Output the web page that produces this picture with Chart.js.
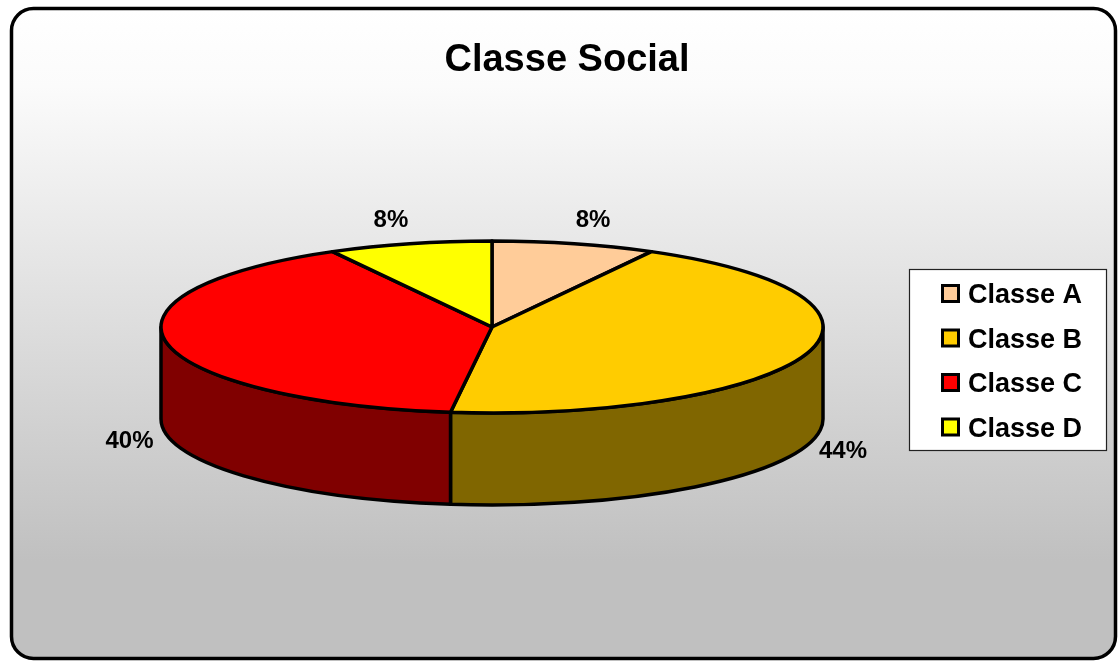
<!DOCTYPE html>
<html>
<head>
<meta charset="utf-8">
<title>Classe Social</title>
<script src="https://cdn.jsdelivr.net/npm/chart.js@4/dist/chart.umd.min.js"></script>
<style>
  html,body{margin:0;padding:0;background:#fff;}
  canvas{display:block;}
</style>
</head>
<body>
<canvas id="pie" width="1119" height="662"></canvas>
<script>
// data
const categories = ['Classe A','Classe B','Classe C','Classe D'];
const shares = [8, 44, 40, 8];
const topColors = ['#FFCC99','#FFCC00','#FF0000','#FFFF00'];
const sideColors = ['#806633','#806600','#800000','#808000'];
const chartTitle = 'Classe Social';

const FONT = 'Arial, "Liberation Sans", sans-serif';
const DEPTH = 92;   // height of the pie wall, px

const pct = (v) => Math.round(v / shares.reduce((a,b)=>a+b,0) * 100) + '%';

function drawFrame(ctx){
  const x=11.5, y=8.5, w=1104, h=650, r=22;
  const g = ctx.createLinearGradient(0, y, 0, y+h);
  g.addColorStop(0, '#ffffff');
  g.addColorStop(0.12, '#fbfbfb');
  g.addColorStop(0.85, '#c0c0c0');
  g.addColorStop(1, '#c0c0c0');
  ctx.save();
  ctx.beginPath();
  ctx.roundRect(x, y, w, h, r);
  ctx.fillStyle = g; ctx.fill();
  ctx.lineWidth = 3.5; ctx.strokeStyle = '#000'; ctx.stroke();
  ctx.restore();
}

function drawTitle(ctx){
  ctx.save();
  ctx.font = 'bold 38px ' + FONT;
  ctx.fillStyle = '#000'; ctx.textAlign = 'center'; ctx.textBaseline = 'alphabetic';
  ctx.fillText(chartTitle, 567, 71);
  ctx.restore();
}

function drawLegend(ctx){
  ctx.save();
  ctx.fillStyle = '#fff'; ctx.fillRect(909.5, 269.5, 197, 181);
  ctx.lineWidth = 1.2; ctx.strokeStyle = '#222'; ctx.strokeRect(909.5, 269.5, 197, 181);
  ctx.font = 'bold 27px ' + FONT;
  ctx.textBaseline = 'alphabetic';
  categories.forEach((c,i)=>{
    const base = 303 + i*44.5;
    ctx.fillStyle = topColors[i]; ctx.fillRect(942.5, base-17.5, 16, 16);
    ctx.lineWidth = 3; ctx.strokeStyle = '#000'; ctx.strokeRect(942.5, base-17.5, 16, 16);
    ctx.fillStyle = '#000'; ctx.fillText(c, 968, base);
  });
  ctx.restore();
}

const pie3d = {
  id: 'pie3d',
  beforeDraw(chart){ drawFrame(chart.ctx); },
  beforeDatasetsDraw(chart){
    const ctx = chart.ctx, area = chart.chartArea;
    const arcs = chart.getDatasetMeta(0).data;
    if (!arcs.length) return false;
    const cx = arcs[0].x, cy = arcs[0].y;
    const ry = arcs[0].outerRadius, rx = (area.right - area.left) / 2;
    ctx.save();
    ctx.lineWidth = 3.5; ctx.lineJoin = 'round'; ctx.strokeStyle = '#000';
    // front walls (lower half of the ellipse only)
    arcs.forEach((a,i)=>{
      const s = Math.max(a.startAngle, 0), e = Math.min(a.endAngle, Math.PI);
      if (e <= s) return;
      ctx.beginPath();
      ctx.ellipse(cx, cy, rx, ry, 0, s, e);
      ctx.ellipse(cx, cy + DEPTH, rx, ry, 0, e, s, true);
      ctx.closePath();
      ctx.fillStyle = sideColors[i]; ctx.fill(); ctx.stroke();
    });
    // top faces
    arcs.forEach((a,i)=>{
      ctx.beginPath();
      ctx.moveTo(cx, cy);
      ctx.ellipse(cx, cy, rx, ry, 0, a.startAngle, a.endAngle);
      ctx.closePath();
      ctx.fillStyle = topColors[i]; ctx.fill(); ctx.stroke();
    });
    // percentage labels outside the rim
    ctx.font = 'bold 24px ' + FONT;
    ctx.fillStyle = '#000'; ctx.textAlign = 'center'; ctx.textBaseline = 'middle';
    arcs.forEach((a,i)=>{
      const m = (a.startAngle + a.endAngle) / 2;
      const c = Math.cos(m), s = Math.sin(m);
      const txt = pct(shares[i]);
      const w = ctx.measureText(txt).width;
      const gap = s < 0 ? 58 : 14;
      const x = cx + (rx + gap) * c + (w/2) * c;
      const y = s < 0 ? cy + (ry + 24) * s : cy + DEPTH + ry * s + 6;
      ctx.fillText(txt, x, y);
    });
    ctx.restore();
    return false;
  },
  afterDraw(chart){
    drawTitle(chart.ctx);
    drawLegend(chart.ctx);
  }
};

new Chart(document.getElementById('pie'), {
  type: 'pie',
  data: { labels: categories, datasets: [{ data: shares, backgroundColor: topColors, borderWidth: 0 }] },
  options: {
    responsive: false, animation: false, events: [],
    layout: { padding: { left: 161, right: 296, top: 241, bottom: 249 } },
    plugins: { legend: { display: false }, title: { display: false }, tooltip: { enabled: false } }
  },
  plugins: [pie3d]
});
</script>
</body>
</html>
